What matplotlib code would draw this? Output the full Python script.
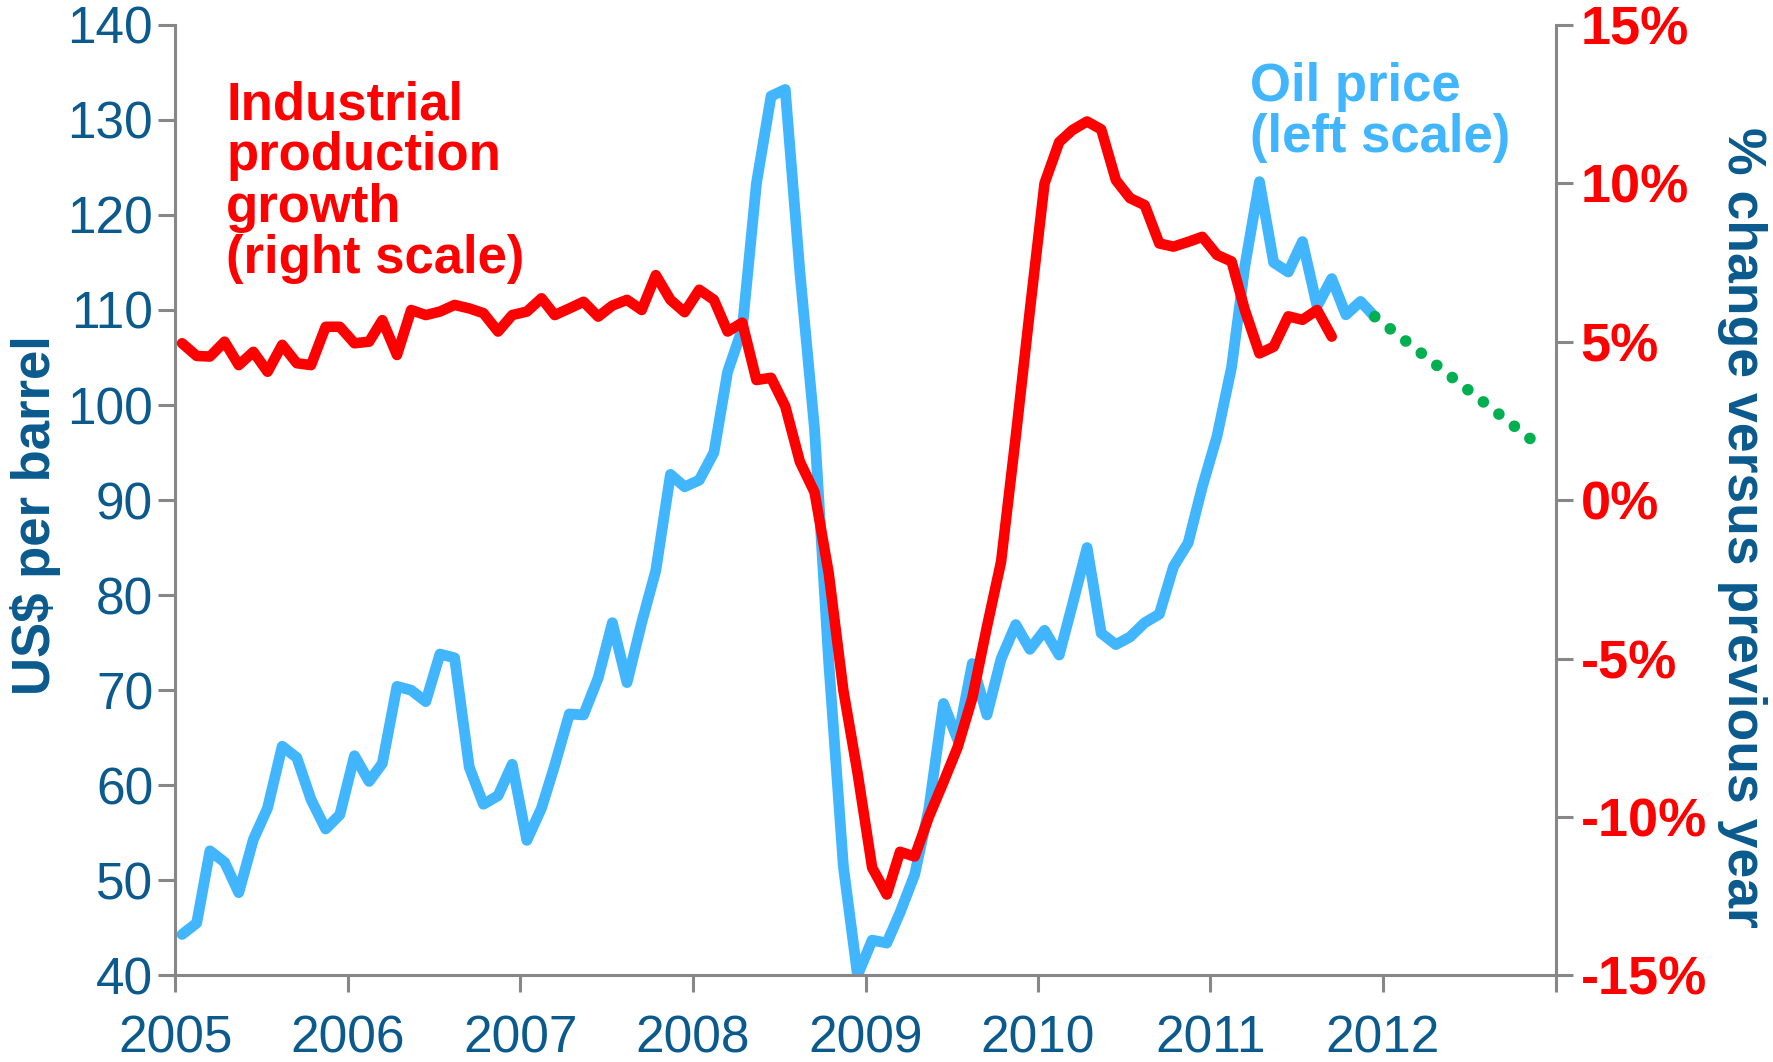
import matplotlib
matplotlib.use("Agg")
import matplotlib.pyplot as plt
import pandas as pd

plt.rcParams["font.family"] = ["Liberation Sans", "DejaVu Sans"]

# monthly oil price, US$ per barrel, Jan 2005 - Dec 2011 (left scale)
oil_price = [
    44.3, 45.5, 53.1, 51.9, 48.7, 54.3, 57.6, 64.1, 62.9, 58.5, 55.4, 56.9,
    63.1, 60.4, 62.3, 70.4, 70.0, 68.8, 73.8, 73.4, 61.9, 58.0, 58.9, 62.2,
    54.2, 57.6, 62.1, 67.5, 67.4, 71.3, 77.1, 70.8, 77.1, 82.6, 92.7, 91.4,
    92.1, 95.0, 103.5, 108.0, 123.3, 132.5, 133.2, 114.0, 97.5, 73.0, 51.5, 40.0,
    43.7, 43.4, 46.6, 50.6, 57.5, 68.6, 64.8, 72.8, 67.4, 73.3, 76.9, 74.3,
    76.3, 73.7, 79.0, 85.0, 76.0, 74.8, 75.6, 77.1, 78.0, 83.0, 85.5, 91.4,
    96.7, 104.0, 114.6, 123.5, 115.0, 114.0, 117.2, 110.4, 113.3, 109.5, 110.9, 109.3,
]
oil_months = pd.period_range("2005-01", "2011-12", freq="M")

# industrial production growth, % vs previous year, Jan 2005 - Sep 2011 (right scale)
ip_growth = [
    4.95, 4.55, 4.53, 5.0, 4.26, 4.68, 4.05, 4.9, 4.32, 4.26, 5.47, 5.47,
    4.95, 5.0, 5.68, 4.58, 6.0, 5.84, 5.95, 6.16, 6.05, 5.9, 5.32, 5.84,
    5.95, 6.37, 5.84, 6.05, 6.26, 5.79, 6.14, 6.32, 6.0, 7.1, 6.32, 5.93,
    6.64, 6.32, 5.32, 5.6, 3.79, 3.86, 2.96, 1.21, 0.25, -2.3, -6.0, -8.6,
    -11.6, -12.45, -11.1, -11.25, -10.0, -8.9, -7.8, -6.25, -4.0, -1.94, 2.0, 6.0,
    10.0, 11.3, 11.68, 11.95, 11.7, 10.1, 9.53, 9.31, 8.1, 8.0, 8.15, 8.31,
    7.74, 7.53, 6.0, 4.63, 4.84, 5.8, 5.69, 6.0, 5.16,
]
ip_months = pd.period_range("2005-01", "2011-09", freq="M")

# oil price projection (dotted)
fc_months = pd.PeriodIndex(["2011-12", "2012-11"], freq="M")
fc_price = [109.3, 96.2]

years = list(range(2005, 2014))
year_labels = [str(y) for y in years[:-1]] + [""]
left_ticks = list(range(40, 141, 10))
right_ticks = list(range(-15, 16, 5))

DARK_BLUE = "#0A5A8E"
LIGHT_BLUE = "#41B6FF"
RED = "#FF0000"
GREEN = "#00B050"
GREY = "#878787"


def mid_month(periods):
    return periods.to_timestamp() + pd.Timedelta(days=14)


fig = plt.figure(figsize=(17.74, 10.62), dpi=100)
ax = fig.add_axes([0.0989, 0.0816, 0.778, 0.895])
ax2 = ax.twinx()

ax.plot(mid_month(oil_months), oil_price, color=LIGHT_BLUE, lw=7.8,
        solid_joinstyle="round", solid_capstyle="round")
ax.plot(mid_month(fc_months), fc_price, color=GREEN, lw=8.4,
        linestyle=(0, (0.001, 1.69)), dash_capstyle="round")
ax2.plot(mid_month(ip_months), ip_growth, color=RED, lw=7.6,
         solid_joinstyle="round", solid_capstyle="round")

ax.set_xlim(pd.Timestamp("2005-01-01"), pd.Timestamp("2013-01-01"))
ax.set_ylim(40, 140)
ax2.set_ylim(-15, 15)

ax.set_xticks([pd.Timestamp(f"{y}-01-01") for y in years])
ax.set_xticklabels(year_labels)
ax.set_yticks(left_ticks)
ax2.set_yticks(right_ticks)
ax2.set_yticklabels([f"{v}%" for v in right_ticks], fontweight="bold")

for a in (ax, ax2):
    a.spines["top"].set_visible(False)
ax.spines["right"].set_visible(False)
ax2.spines["left"].set_visible(False)
ax2.spines["bottom"].set_visible(False)
for s in ("left", "bottom"):
    ax.spines[s].set_color(GREY)
    ax.spines[s].set_linewidth(2.2)
ax2.spines["right"].set_color(GREY)
ax2.spines["right"].set_linewidth(2.2)

ax.tick_params(axis="y", direction="out", length=12, width=2.2, color=GREY,
               labelsize=37, labelcolor=DARK_BLUE, pad=4)
ax.tick_params(axis="x", direction="out", length=12, width=2.2, color=GREY,
               labelsize=37, labelcolor=DARK_BLUE, pad=16)
ax2.tick_params(axis="y", direction="out", length=12, width=2.2, color=GREY,
                labelsize=39, labelcolor=RED, pad=6)

fig.text(0.020, 0.515, "US$ per barrel", rotation=90, ha="center",
         va="center", fontsize=38, fontweight="bold", color=DARK_BLUE)
fig.text(0.982, 0.503, "% change versus previous year", rotation=270,
         ha="center", va="center", fontsize=38.5, fontweight="bold",
         color=DARK_BLUE)

fig.text(0.1275, 0.9245, "Industrial\nproduction\ngrowth\n(right scale)",
         ha="left", va="top", fontsize=38, fontweight="bold", color=RED,
         linespacing=1.03)
fig.text(0.7047, 0.9418, "Oil price\n(left scale)", ha="left", va="top",
         fontsize=38, fontweight="bold", color=LIGHT_BLUE, linespacing=1.03)

fig.savefig("out.png", dpi=100)
